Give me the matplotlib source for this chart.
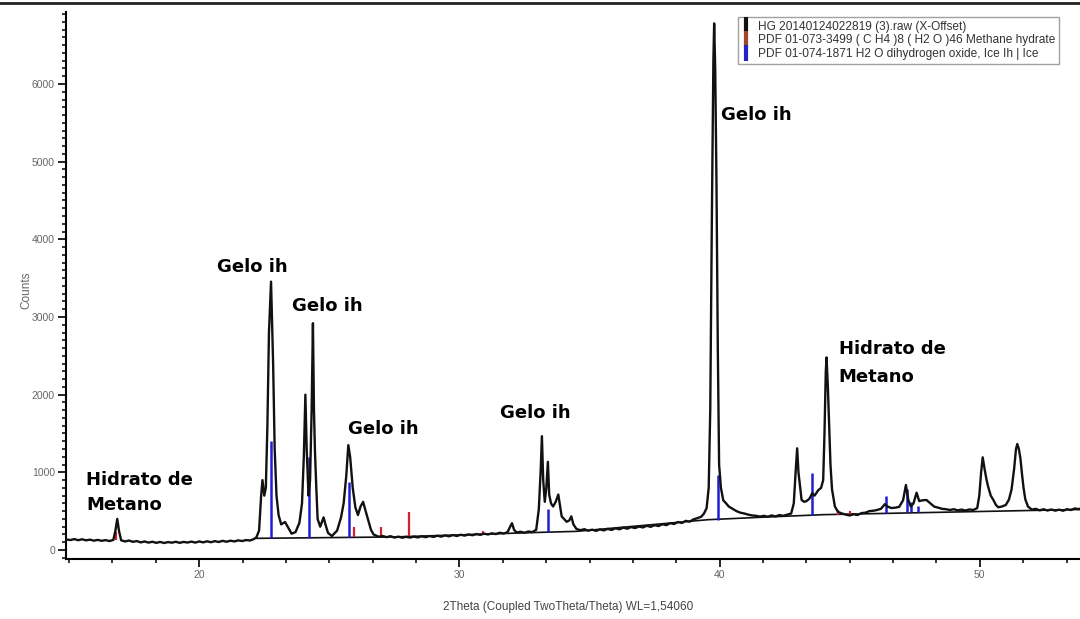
import numpy as np
import matplotlib
matplotlib.use("Agg")
import matplotlib.pyplot as plt
from matplotlib.lines import Line2D
from matplotlib.ticker import MultipleLocator

# ----------------------------
# Data
# ----------------------------

two_theta = [
    14.9, 15.05, 15.2, 15.35, 15.5, 15.65, 15.8, 15.95, 16.1, 16.25, 16.4, 16.55, 16.7, 16.78, 16.85, 16.92,
    17.0, 17.15, 17.3, 17.45, 17.6, 17.75, 17.9, 18.05, 18.2, 18.35, 18.5, 18.65, 18.8, 18.95, 19.1, 19.25,
    19.4, 19.55, 19.7, 19.85, 20.0, 20.15, 20.3, 20.45, 20.6, 20.75, 20.9, 21.05, 21.2, 21.35, 21.5, 21.65,
    21.8, 21.95, 22.1, 22.2, 22.3, 22.38, 22.43, 22.5, 22.56, 22.62, 22.68, 22.76, 22.84, 22.9, 22.97, 23.05,
    23.15, 23.3, 23.4, 23.55, 23.7, 23.85, 23.95, 24.02, 24.08, 24.13, 24.2, 24.26, 24.32, 24.37, 24.41, 24.45,
    24.5, 24.55, 24.65, 24.78, 24.85, 24.95, 25.1, 25.3, 25.45, 25.55, 25.65, 25.73, 25.8, 25.9, 26.0, 26.1,
    26.2, 26.3, 26.38, 26.5, 26.6, 26.7, 26.9, 27.05, 27.2, 27.35, 27.5, 27.65, 27.8, 27.95, 28.1, 28.25,
    28.4, 28.55, 28.7, 28.85, 29.0, 29.15, 29.3, 29.45, 29.6, 29.75, 29.9, 30.05, 30.2, 30.35, 30.5, 30.65,
    30.8, 30.95, 31.1, 31.25, 31.4, 31.55, 31.7, 31.85, 31.95, 32.02, 32.1, 32.2, 32.35, 32.5, 32.65, 32.8,
    32.95, 33.05, 33.12, 33.17, 33.22, 33.28, 33.34, 33.4, 33.45, 33.52, 33.6, 33.7, 33.8, 33.87, 33.93, 34.02,
    34.12, 34.22, 34.3, 34.38, 34.5, 34.65, 34.8, 34.95, 35.1, 35.25, 35.4, 35.55, 35.7, 35.85, 36.0, 36.15,
    36.3, 36.45, 36.6, 36.75, 36.9, 37.05, 37.2, 37.35, 37.5, 37.65, 37.8, 37.95, 38.1, 38.25, 38.4, 38.55,
    38.7, 38.85, 39.0, 39.15, 39.3, 39.4, 39.5, 39.58, 39.64, 39.7, 39.76, 39.79, 39.83, 39.88, 39.93, 39.98,
    40.05, 40.14, 40.25, 40.35, 40.5, 40.65, 40.8, 40.95, 41.1, 41.25, 41.4, 41.55, 41.7, 41.85, 42.0, 42.15,
    42.3, 42.45, 42.6, 42.75, 42.85, 42.92, 42.98, 43.03, 43.08, 43.15, 43.25, 43.34, 43.45, 43.56, 43.65, 43.79,
    43.9, 43.98, 44.03, 44.08, 44.11, 44.16, 44.2, 44.26, 44.32, 44.43, 44.55, 44.7, 44.85, 45.0, 45.15, 45.3,
    45.45, 45.6, 45.75, 45.9, 46.05, 46.2, 46.35, 46.45, 46.6, 46.75, 46.9, 47.05, 47.16, 47.25, 47.35, 47.45,
    47.57, 47.67, 47.8, 47.95, 48.1, 48.25, 48.4, 48.55, 48.7, 48.85, 49.0, 49.15, 49.3, 49.45, 49.6, 49.75,
    49.9, 49.98, 50.05, 50.11, 50.19, 50.26, 50.32, 50.42, 50.52, 50.62, 50.71, 50.85, 51.0, 51.12, 51.22, 51.32,
    51.39, 51.44, 51.5, 51.56, 51.62, 51.68, 51.75, 51.85, 52.0, 52.15, 52.3, 52.45, 52.6, 52.75, 52.9, 53.05,
    53.2, 53.35, 53.5, 53.65, 53.8, 53.9,
]

counts = [
    135, 128, 140, 126, 138, 124, 133, 120, 130, 118, 127, 115, 130, 250, 400, 240,
    125, 110, 122, 105, 115, 98, 110, 95, 106, 92, 104, 90, 102, 94, 106, 92,
    104, 96, 108, 95, 110, 98, 112, 100, 114, 103, 118, 106, 120, 110, 124, 115,
    128, 122, 140, 165, 250, 700, 900, 700, 800, 1600, 2800, 3455, 2400, 1300, 700, 450,
    330, 360, 300, 210, 230, 350, 600, 1200, 2000, 1300, 700, 900, 1800, 2920, 1800, 1250,
    800, 400, 300, 420, 330, 220, 180, 250, 420, 600, 950, 1350, 1200, 800, 550, 450,
    560, 620, 520, 380, 260, 200, 170, 180, 165, 178, 160, 172, 158, 170, 160, 172,
    162, 176, 165, 180, 168, 184, 172, 188, 176, 192, 180, 196, 185, 200, 190, 205,
    195, 210, 200, 215, 205, 222, 212, 230, 300, 345, 260, 225, 235, 222, 238, 230,
    260, 520, 1000, 1465, 900, 620, 800, 1135, 714, 600, 560, 620, 714, 560, 433, 400,
    363, 380, 433, 330, 270, 255, 268, 248, 262, 246, 265, 252, 272, 258, 280, 266,
    288, 274, 295, 282, 302, 290, 312, 298, 320, 308, 332, 320, 345, 335, 360, 348,
    375, 365, 395, 410, 430, 470, 540, 800, 1800, 4200, 6300, 6780, 6200, 4700, 2600, 1100,
    800, 640, 600, 560, 530, 500, 480, 470, 455, 445, 440, 430, 440, 428, 445, 432,
    450, 440, 455, 470, 600, 1000, 1309, 1000, 850, 644, 620, 630, 660, 730, 700, 770,
    800, 900, 1500, 2300, 2480, 2100, 1700, 1100, 780, 560, 490, 470, 455, 445, 460, 450,
    475, 480, 500, 505, 515, 530, 590, 560, 540, 545, 555, 640, 837, 644, 560, 600,
    738, 630, 640, 644, 600, 558, 545, 530, 525, 515, 525, 510, 520, 508, 522, 515,
    540, 700, 1000, 1193, 1030, 900, 815, 700, 644, 580, 550, 560, 580, 650, 780, 1050,
    1300, 1365, 1300, 1180, 980, 800, 650, 560, 520, 530, 510, 525, 508, 522, 506, 520,
    505, 525, 515, 535, 525, 540,
]

# background line
bg_theta = [22.2, 27.5, 32.9, 34.5, 39.55, 41.5, 44.0, 53.9]
bg_counts = [150, 168, 225, 240, 390, 420, 455, 522]

# PDF 01-073-3499 methane hydrate sticks
hyd_theta = [16.8, 25.95, 27.0, 28.06, 30.9, 44.55, 45.0]
hyd_bottom = [125, 165, 165, 165, 200, 450, 455]
hyd_top = [230, 290, 290, 490, 240, 520, 500]

# PDF 01-074-1871 ice Ih sticks
ice_theta = [22.76, 24.2, 25.76, 33.4, 39.95, 43.56, 46.38, 47.2, 47.37, 47.62]
ice_bottom = [150, 160, 165, 235, 390, 450, 480, 490, 490, 495]
ice_top = [1400, 1200, 880, 530, 970, 990, 690, 780, 620, 560]

legend_labels = [
    "HG 20140124022819 (3).raw (X-Offset)",
    "PDF 01-073-3499 ( C H4 )8 ( H2 O )46 Methane hydrate",
    "PDF 01-074-1871 H2 O dihydrogen oxide, Ice Ih | Ice",
]
legend_colors = ["#111111", "#a0462a", "#2222c8"]

annotations = [
    ("Hidrato de", 15.65, 837), ("Metano", 15.65, 515),
    ("Gelo ih", 20.67, 3583),
    ("Gelo ih", 23.57, 3077),
    ("Gelo ih", 25.73, 1494),
    ("Gelo ih", 31.56, 1700),
    ("Gelo ih", 40.04, 5536),
    ("Hidrato de", 44.58, 2520), ("Metano", 44.58, 2167),
]

# ----------------------------
# Plot
# ----------------------------

W, H = 1080, 619
fig = plt.figure(figsize=(W / 100, H / 100), dpi=100)
ax = fig.add_axes([66 / W, 1 - 559 / H, 1 - 66 / W, (559 - 12) / H])

ax.plot(bg_theta, bg_counts, color="#111111", lw=1.2, zorder=2)
ax.vlines(hyd_theta, hyd_bottom, hyd_top, color="#d42030", lw=1.6, zorder=3)
ax.vlines(ice_theta, ice_bottom, ice_top, color="#1e1ed0", lw=1.8, zorder=4)
ax.plot(two_theta, counts, color="#111111", lw=1.7, zorder=5)

ax.set_xlim(14.88, 53.85)
ax.set_ylim(-116, 6927)

for side in ["top", "right"]:
    ax.spines[side].set_visible(False)
for side in ["left", "bottom"]:
    ax.spines[side].set_linewidth(1.5)

ax.xaxis.set_major_locator(MultipleLocator(10))
ax.xaxis.set_minor_locator(MultipleLocator(10 / 6))
ax.yaxis.set_major_locator(MultipleLocator(1000))
ax.yaxis.set_minor_locator(MultipleLocator(100))
ax.tick_params(which="major", direction="out", length=6, width=1.2,
               labelsize=7.5, labelcolor="#666666", pad=2)
ax.tick_params(which="minor", direction="out", length=3, width=1.1)
for lab in ax.get_xticklabels() + ax.get_yticklabels():
    lab.set_family("Liberation Sans")

for txt, x, y in annotations:
    ax.text(x, y, txt, fontsize=13, fontweight="bold", family="DejaVu Sans",
            ha="left", va="baseline", color="black", zorder=6)

fig.text(26 / W, 1 - 290 / H, "Counts", rotation=90, ha="center", va="center",
         fontsize=8.5, color="#666666", family="Liberation Sans")
fig.text(568 / W, 1 - 607 / H, "2Theta (Coupled TwoTheta/Theta) WL=1,54060",
         ha="center", va="center", fontsize=8.5, color="#444444", family="Liberation Sans")

handles = [Line2D([], [], color=c, marker="|", linestyle="None", markersize=11,
                  markeredgewidth=3) for c in legend_colors]
leg = fig.legend(handles, legend_labels, loc="upper left",
                 bbox_to_anchor=(738 / W, 1 - 17 / H), borderaxespad=0,
                 frameon=True, fancybox=False, edgecolor="#8a8a8a",
                 prop={"family": "Liberation Sans", "size": 8.6},
                 handlelength=0.8, handletextpad=0.6, labelspacing=0.15,
                 borderpad=0.3)
leg.get_frame().set_linewidth(1.0)
for t in leg.get_texts():
    t.set_color("#333333")

fig.add_artist(Line2D([0, 1], [1 - 3 / H, 1 - 3 / H], transform=fig.transFigure,
                      color="#222222", lw=2))

fig.savefig("out.png", dpi=100)
